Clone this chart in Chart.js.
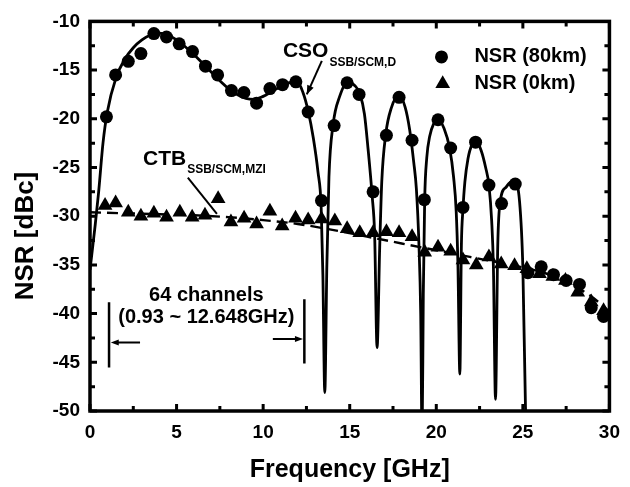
<!DOCTYPE html>
<html>
<head>
<meta charset="utf-8">
<script src="https://cdn.jsdelivr.net/npm/chart.js@4.4.0/dist/chart.umd.min.js"></script>
<style>
html, body { margin: 0; padding: 0; background: #fff; }
#wrap { width: 630px; height: 487px; }
</style>
</head>
<body>
<div id="wrap"><canvas id="nsrChart" width="630" height="487"></canvas></div>
<script>
// tick labels
const xTicks = [0, 5, 10, 15, 20, 25, 30];
const yTicks = [-10, -15, -20, -25, -30, -35, -40, -45, -50];

// NSR (80km), measured, circles  [GHz, dBc]
const nsr80km = [
  [0.95, -19.8], [1.48, -15.5], [2.21, -14.1], [2.94, -13.3], [3.69, -11.25],
  [4.42, -11.6], [5.15, -12.3], [5.92, -13.1], [6.67, -14.6], [7.37, -15.5],
  [8.17, -17.1], [8.89, -17.3], [9.62, -18.4], [10.39, -16.9], [11.12, -16.5],
  [11.89, -16.2], [12.6, -19.3], [13.37, -28.4], [14.1, -20.7], [14.85, -16.3],
  [15.54, -17.5], [16.35, -27.5], [17.12, -21.7], [17.85, -17.8], [18.6, -22.2],
  [19.31, -28.3], [20.1, -20.1], [20.83, -23.0], [21.54, -29.1], [22.27, -22.4],
  [23.04, -26.8], [23.77, -28.7], [24.56, -26.7], [25.29, -35.8], [26.06, -35.2],
  [26.77, -36.0], [27.5, -36.6], [28.27, -37.0], [28.95, -39.4], [29.66, -40.3]
];

// NSR (0km), measured, triangles
const nsr0km = [
  [0.87, -28.9], [1.48, -28.65], [2.21, -29.6], [2.94, -30.0], [3.69, -29.7],
  [4.42, -30.1], [5.19, -29.6], [5.9, -30.1], [6.64, -29.9], [7.4, -28.2],
  [8.14, -30.6], [8.9, -30.2], [9.62, -30.8], [10.39, -29.5], [11.1, -31.0],
  [11.87, -30.2], [12.6, -30.4], [13.37, -30.3], [14.14, -30.5], [14.85, -31.3],
  [15.58, -31.7], [16.35, -31.7], [17.12, -31.6], [17.85, -31.7], [18.6, -32.1],
  [19.33, -33.7], [20.1, -33.2], [20.83, -33.6], [21.54, -34.5], [22.31, -35.0],
  [23.04, -34.2], [23.75, -34.9], [24.52, -35.1], [25.23, -35.4], [25.96, -35.9],
  [26.73, -36.2], [27.46, -36.6], [28.17, -37.8], [28.95, -38.8], [29.66, -39.7]
];

// CSO calculation (solid line)
const csoCurve = [
  [0, -35.5], [0.3, -30.9], [0.5, -27.5], [0.75, -22.5], [1.0, -19.3], [1.5, -15.8],
  [2.0, -13.9], [2.5, -12.7], [3.0, -11.9], [3.5, -11.4], [4.0, -11.2], [4.5, -11.4],
  [5.0, -11.9], [5.5, -12.6], [6.0, -13.4], [6.5, -14.3], [7.0, -15.2], [7.5, -16.1],
  [8.0, -16.9], [8.5, -17.5], [9.0, -17.9], [9.5, -18.0], [10.0, -17.7], [10.5, -17.2],
  [11.0, -16.7], [11.5, -16.3], [12.0, -16.3], [12.3, -17.3], [12.6, -19.2], [12.9, -22.0],
  [13.17, -25.5], [13.35, -29.0], [13.45, -36.0], [13.56, -48.1], [13.68, -35.0], [13.8, -26.0],
  [14.04, -20.6], [14.42, -17.7], [14.9, -16.2], [15.3, -16.6], [15.58, -17.4], [15.85, -19.5],
  [16.06, -23.1], [16.3, -28.0], [16.44, -31.9], [16.58, -43.5], [16.73, -33.3], [16.85, -26.5],
  [17.08, -21.6], [17.4, -18.9], [17.85, -17.6], [18.2, -18.8], [18.46, -21.1], [18.7, -24.5],
  [18.85, -27.2], [19.0, -33.0], [19.1, -40.0], [19.18, -53.0], [19.25, -38.0], [19.33, -28.3],
  [19.45, -24.0], [19.62, -21.8], [19.85, -20.5], [20.1, -20.0], [20.45, -21.0], [20.77, -23.0],
  [21.0, -26.0], [21.15, -29.5], [21.25, -35.0], [21.36, -46.2], [21.45, -33.0], [21.54, -29.3],
  [21.65, -26.5], [21.83, -24.1], [22.05, -22.7], [22.31, -22.3], [22.6, -23.3], [22.85, -25.0],
  [23.04, -26.8], [23.2, -30.5], [23.3, -35.3], [23.42, -48.8], [23.55, -33.0], [23.7, -28.4],
  [24.04, -27.0], [24.3, -26.5], [24.52, -26.5], [24.81, -28.5], [25.0, -35.3], [25.15, -49.5],
  [25.22, -53.0]
];

// CTB calculation (dashed line)
const ctbCurve = [
  [0, -29.6], [2, -29.7], [4, -29.8], [6, -29.9], [8, -30.1], [10, -30.4],
  [12, -30.8], [14, -31.4], [16, -32.1], [18, -32.8], [20, -33.5], [22, -34.2],
  [24, -34.9], [26, -35.7], [27, -36.3], [28, -37.2], [29, -38.3], [30, -39.8]
];

const FONT = "'Liberation Sans', Arial, sans-serif";
Chart.defaults.font.family = FONT;
Chart.defaults.color = '#000';

const toPts = arr => arr.map(p => ({ x: p[0], y: p[1] }));

function drawArrowHead(ctx, x0, y0, x1, y1, len, half) {
  const ang = Math.atan2(y1 - y0, x1 - x0);
  ctx.beginPath();
  ctx.moveTo(x1, y1);
  ctx.lineTo(x1 - len * Math.cos(ang) + half * Math.sin(ang), y1 - len * Math.sin(ang) - half * Math.cos(ang));
  ctx.lineTo(x1 - len * Math.cos(ang) - half * Math.sin(ang), y1 - len * Math.sin(ang) + half * Math.cos(ang));
  ctx.closePath();
  ctx.fill();
}

function subText(ctx, main, sub, x, y, mainSize, subSize, drop) {
  ctx.textAlign = 'left';
  ctx.textBaseline = 'alphabetic';
  ctx.font = 'bold ' + mainSize + 'px ' + FONT;
  ctx.fillText(main, x, y);
  const w = ctx.measureText(main).width;
  ctx.font = 'bold ' + subSize + 'px ' + FONT;
  ctx.fillText(sub, x + w + 1, y + drop);
}

const decor = {
  id: 'decor',
  afterDatasetsDraw(chart) {
    const { ctx, chartArea: a, scales: { x, y } } = chart;
    const px = v => x.getPixelForValue(v);
    const py = v => y.getPixelForValue(v);
    ctx.save();
    ctx.strokeStyle = '#000';
    ctx.fillStyle = '#000';

    // inward ticks on all sides
    ctx.lineWidth = 3;
    ctx.beginPath();
    for (let v = 0; v <= 30; v += 2.5) {
      const len = v % 5 === 0 ? 7 : 5;
      ctx.moveTo(px(v), a.bottom); ctx.lineTo(px(v), a.bottom - len);
      ctx.moveTo(px(v), a.top); ctx.lineTo(px(v), a.top + len);
    }
    for (let v = -50; v <= -10; v += 2.5) {
      const len = v % 5 === 0 ? 7 : 5;
      ctx.moveTo(a.left, py(v)); ctx.lineTo(a.left + len, py(v));
      ctx.moveTo(a.right, py(v)); ctx.lineTo(a.right - len, py(v));
    }
    ctx.stroke();

    // frame
    ctx.lineWidth = 3.5;
    ctx.strokeRect(a.left, a.top, a.right - a.left, a.bottom - a.top);

    // y axis title
    ctx.save();
    ctx.translate(26, 236);
    ctx.rotate(-Math.PI / 2);
    ctx.font = 'bold 26px ' + FONT;
    ctx.textAlign = 'center';
    ctx.textBaseline = 'middle';
    ctx.fillText('NSR [dBc]', 0, 0);
    ctx.restore();

    // CSO label + arrow
    subText(ctx, 'CSO', 'SSB/SCM,D', px(11.14), py(-13.65), 21, 12, 9);
    ctx.lineWidth = 2;
    ctx.beginPath();
    ctx.moveTo(px(13.39), py(-14.06));
    ctx.lineTo(px(12.52), py(-17.5));
    ctx.stroke();
    drawArrowHead(ctx, px(13.39), py(-14.06), px(12.52), py(-17.5), 9, 3.5);

    // CTB label + leader
    subText(ctx, 'CTB', 'SSB/SCM,MZI', px(3.06), py(-24.72), 21, 12, 8);
    ctx.lineWidth = 2;
    ctx.beginPath();
    ctx.moveTo(px(5.65), py(-26.05));
    ctx.lineTo(px(7.33), py(-29.75));
    ctx.stroke();

    // channel band
    ctx.font = 'bold 20px ' + FONT;
    ctx.textAlign = 'center';
    ctx.textBaseline = 'alphabetic';
    ctx.fillText('64 channels', px(6.72), py(-38.73));
    ctx.fillText('(0.93 ~ 12.648GHz)', px(6.72), py(-40.96));
    ctx.lineWidth = 2.5;
    ctx.beginPath();
    ctx.moveTo(px(1.1), py(-38.83)); ctx.lineTo(px(1.1), py(-45.53));
    ctx.moveTo(px(12.38), py(-38.53)); ctx.lineTo(px(12.38), py(-45.13));
    ctx.stroke();
    ctx.lineWidth = 2;
    ctx.beginPath();
    ctx.moveTo(px(2.89), py(-42.96)); ctx.lineTo(px(1.5), py(-42.96));
    ctx.moveTo(px(10.56), py(-42.62)); ctx.lineTo(px(11.95), py(-42.62));
    ctx.stroke();
    drawArrowHead(ctx, px(2.89), py(-42.96), px(1.2), py(-42.96), 8, 3);
    drawArrowHead(ctx, px(10.56), py(-42.62), px(12.3), py(-42.62), 8, 3);

    // legend
    ctx.beginPath();
    ctx.arc(px(20.3), py(-13.65), 6.5, 0, Math.PI * 2);
    ctx.fill();
    const tx = px(20.37), ty = py(-16.4), r = 8.5;
    ctx.beginPath();
    ctx.moveTo(tx, ty - r);
    ctx.lineTo(tx + r * 0.866, ty + r / 2);
    ctx.lineTo(tx - r * 0.866, ty + r / 2);
    ctx.closePath();
    ctx.fill();
    ctx.font = 'bold 20px ' + FONT;
    ctx.textAlign = 'left';
    ctx.textBaseline = 'middle';
    ctx.fillText('NSR (80km)', px(22.2), py(-13.65));
    ctx.fillText('NSR (0km)', px(22.2), py(-16.4));
    ctx.restore();
  }
};

new Chart(document.getElementById('nsrChart'), {
  type: 'scatter',
  data: {
    datasets: [
      {
        label: 'NSR (0km)',
        data: toPts(nsr0km),
        pointStyle: 'triangle',
        pointRadius: 8.5,
        backgroundColor: '#000',
        borderWidth: 0
      },
      {
        label: 'NSR (80km)',
        data: toPts(nsr80km),
        pointStyle: 'circle',
        pointRadius: 6.5,
        backgroundColor: '#000',
        borderWidth: 0
      },
      {
        label: 'CSO',
        data: toPts(csoCurve),
        showLine: true,
        cubicInterpolationMode: 'monotone',
        borderColor: '#000',
        borderWidth: 2.8,
        pointRadius: 0
      },
      {
        label: 'CTB',
        data: toPts(ctbCurve),
        showLine: true,
        cubicInterpolationMode: 'monotone',
        borderColor: '#000',
        borderWidth: 2.4,
        borderDash: [11, 6],
        pointRadius: 0
      }
    ]
  },
  options: {
    responsive: false,
    devicePixelRatio: 1,
    animation: false,
    events: [],
    layout: { padding: { left: 0, right: 20, top: 17, bottom: 0 } },
    plugins: {
      legend: { display: false },
      tooltip: { enabled: false }
    },
    scales: {
      x: {
        type: 'linear',
        min: 0,
        max: 30,
        afterBuildTicks: s => { s.ticks = xTicks.map(v => ({ value: v })); },
        afterFit: s => { s.height = 76; },
        grid: { display: false, drawTicks: false },
        border: { display: false },
        ticks: { font: { size: 19, weight: 'bold' }, padding: 10, maxRotation: 0 },
        title: {
          display: true,
          text: 'Frequency [GHz]',
          font: { size: 25, weight: 'bold' },
          padding: { top: 0, bottom: 2 }
        }
      },
      y: {
        type: 'linear',
        min: -50,
        max: -10,
        afterBuildTicks: s => { s.ticks = yTicks.map(v => ({ value: v })); },
        afterFit: s => { s.width = 90; },
        grid: { display: false, drawTicks: false },
        border: { display: false },
        ticks: { font: { size: 19, weight: 'bold' }, padding: 10 }
      }
    }
  },
  plugins: [decor]
});
</script>
</body>
</html>
